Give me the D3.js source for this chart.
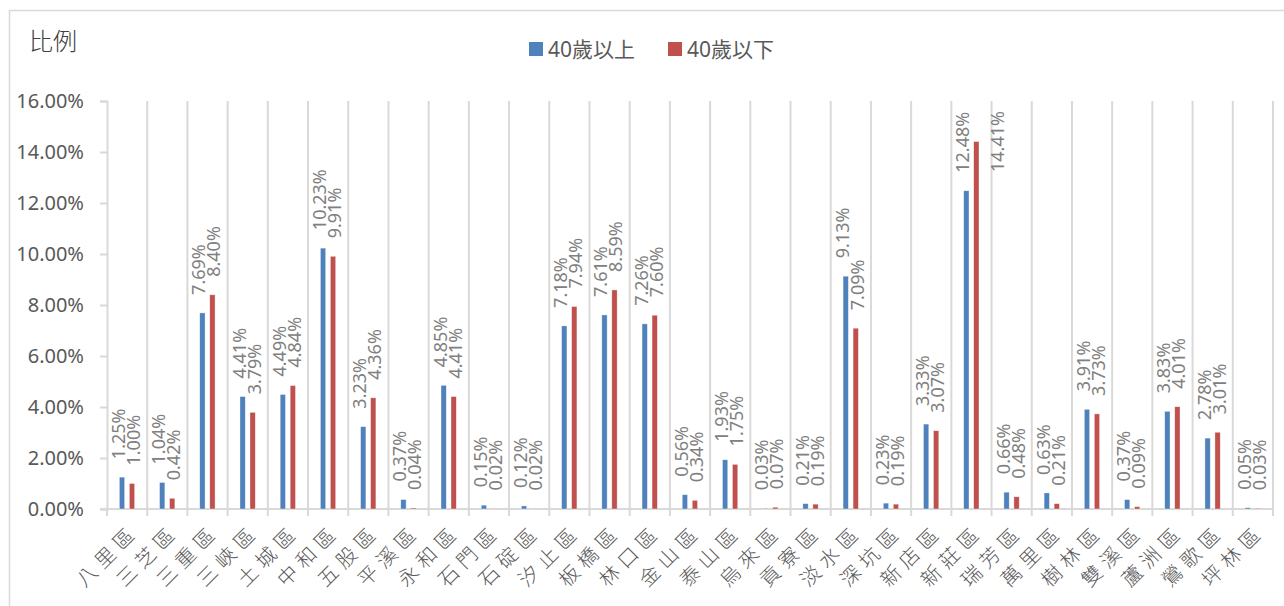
<!DOCTYPE html>
<html>
<head>
<meta charset="utf-8">
<script src="https://cdn.jsdelivr.net/npm/d3@7"></script>
<style>
  body { margin: 0; background: #fff; }
  text { font-family: 'Noto Sans', 'Noto Sans CJK TC', sans-serif; }
</style>
</head>
<body>
<div class="graphic"></div>
<script>
const districts = ['八里區', '三芝區', '三重區', '三峽區', '土城區', '中和區', '五股區', '平溪區', '永和區', '石門區',
  '石碇區', '汐止區', '板橋區', '林口區', '金山區', '泰山區', '烏來區', '貢寮區', '淡水區', '深坑區',
  '新店區', '新莊區', '瑞芳區', '萬里區', '樹林區', '雙溪區', '蘆洲區', '鶯歌區', '坪林區'];
const over40 = [1.25, 1.04, 7.69, 4.41, 4.49, 10.23, 3.23, 0.37, 4.85, 0.15,
  0.12, 7.18, 7.61, 7.26, 0.56, 1.93, 0.03, 0.21, 9.13, 0.23,
  3.33, 12.48, 0.66, 0.63, 3.91, 0.37, 3.83, 2.78, 0.05];
const under40 = [1.00, 0.42, 8.40, 3.79, 4.84, 9.91, 4.36, 0.04, 4.41, 0.02,
  0.02, 7.94, 8.59, 7.60, 0.34, 1.75, 0.07, 0.19, 7.09, 0.19,
  3.07, 14.41, 0.48, 0.21, 3.73, 0.09, 4.01, 3.01, 0.03];
const seriesNames = ['40歲以上', '40歲以下'];
const seriesColors = ['#4f81bd', '#c0504d'];
const yTicks = [0, 2, 4, 6, 8, 10, 12, 14, 16];

const width = 1284, height = 606;
const margin = {top: 101, right: 11, bottom: 97, left: 107};

const svg = d3.select('.graphic')
  .append('svg')
  .attr('width', width)
  .attr('height', height);

// chart border
svg.append('rect')
  .attr('x', 9.5).attr('y', 10.5)
  .attr('width', 1300).attr('height', 620)
  .style('fill', 'none')
  .style('stroke', '#d9d9d9')
  .style('stroke-width', 1.5);

const x0 = d3.scaleBand()
  .domain(districts)
  .range([margin.left, width - margin.right])
  .padding(0);

const x1 = d3.scaleBand()
  .domain(seriesNames)
  .range([10, 30])
  .paddingInner(0.47)
  .paddingOuter(0.235);

const y = d3.scaleLinear()
  .domain([0, 16])
  .range([height - margin.bottom, margin.top]);

const grid = '#d9d9d9';

// vertical gridlines on category boundaries
const bounds = districts.map(d => x0(d)).concat([x0.range()[1]]);
svg.selectAll('.vgrid')
  .data(bounds.slice(1))
  .enter().append('line')
  .attr('x1', d => d).attr('x2', d => d)
  .attr('y1', y(16)).attr('y2', y(0))
  .style('stroke', grid)
  .style('stroke-width', 2);

// x ticks below axis
svg.selectAll('.xtick')
  .data(bounds)
  .enter().append('line')
  .attr('x1', d => d).attr('x2', d => d)
  .attr('y1', y(0)).attr('y2', y(0) + 7)
  .style('stroke', grid)
  .style('stroke-width', 2);

// y axis
const yAxis = svg.append('g')
  .attr('transform', 'translate(' + margin.left + ',0)')
  .call(d3.axisLeft(y).tickValues(yTicks).tickSize(7).tickPadding(16)
    .tickFormat(d => d.toFixed(2) + '%'));
yAxis.select('.domain').style('stroke', grid).style('stroke-width', 2);
yAxis.selectAll('.tick line').style('stroke', grid).style('stroke-width', 2);
yAxis.selectAll('.tick text')
  .style('font-size', '20px')
  .style('fill', '#595959');

// x axis line
svg.append('line')
  .attr('x1', x0.range()[0] - 7).attr('x2', x0.range()[1])
  .attr('y1', y(0)).attr('y2', y(0))
  .style('stroke', grid)
  .style('stroke-width', 2);

// bars
const rows = districts.map((d, i) => ({name: d, values: [over40[i], under40[i]]}));
const groups = svg.selectAll('.cat')
  .data(rows)
  .enter().append('g')
  .attr('transform', d => 'translate(' + x0(d.name) + ',0)');

groups.selectAll('rect')
  .data(d => d.values.map((v, k) => ({key: seriesNames[k], value: v, k: k})))
  .enter().append('rect')
  .attr('x', d => x1(d.key))
  .attr('y', d => y(d.value))
  .attr('width', x1.bandwidth())
  .attr('height', d => y(0) - y(d.value))
  .style('fill', d => seriesColors[d.k])
  .style('stroke', 'rgba(255,255,255,0.6)')
  .style('stroke-width', 0.6);

// data labels, rotated
const labelSize = 18;
groups.selectAll('.dl')
  .data(d => d.values.map((v, k) => ({key: seriesNames[k], value: v, k: k})))
  .enter().append('text')
  .attr('class', 'dl')
  .attr('transform', function (d) {
    let cx = x1(d.key) + x1.bandwidth() / 2 + (d.k === 0 ? -4 : 1);
    let ey = y(d.value) - 18;
    const len = 3.41 * labelSize;
    if (ey - len < 106) {
      ey = 172;
      cx += 20;
    }
    return 'translate(' + cx + ',' + ey + ') rotate(-90)';
  })
  .attr('text-anchor', 'start')
  .attr('dominant-baseline', 'central')
  .style('font-size', labelSize + 'px')
  .style('fill', '#808080')
  .text(d => d.value.toFixed(2) + '%');

// category labels at -45 degrees
svg.selectAll('.cl')
  .data(districts)
  .enter().append('text')
  .attr('transform', d => 'translate(' + (x0(d) + x0.bandwidth() / 2 + 1) + ',' + (y(0) + 12) + ') rotate(-45)')
  .attr('text-anchor', 'end')
  .attr('dominant-baseline', 'hanging')
  .style('font-size', '20px')
  .style('font-weight', 300)
  .style('letter-spacing', '6px')
  .style('fill', '#595959')
  .text(d => d);

// title
svg.append('text')
  .attr('x', 29).attr('y', 50)
  .style('font-size', '24px')
  .style('font-weight', 300)
  .style('fill', '#404040')
  .text('比例');

// legend
const legend = svg.selectAll('.legend')
  .data(seriesNames)
  .enter().append('g')
  .attr('transform', (d, i) => 'translate(' + (529 + i * 139) + ',42)');
legend.append('rect')
  .attr('width', 14).attr('height', 14)
  .style('fill', (d, i) => seriesColors[i]);
legend.append('text')
  .attr('x', 19).attr('y', 7)
  .attr('dominant-baseline', 'central')
  .style('font-size', '21px')
  .style('fill', '#595959')
  .text(d => d);
</script>
</body>
</html>
